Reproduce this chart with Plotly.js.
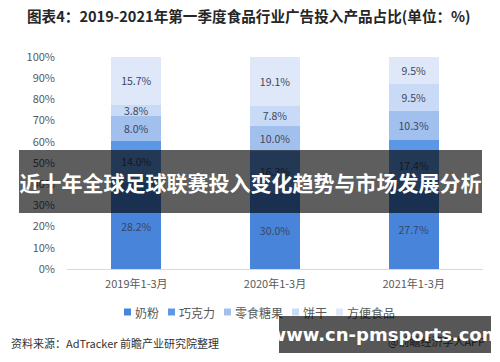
<!DOCTYPE html>
<html>
<head>
<meta charset="utf-8">
<script src="https://cdn.plot.ly/plotly-3.0.1.min.js"></script>
<style>
html,body{margin:0;padding:0;background:#fff;}
#wrap{position:relative;width:500px;height:362px;overflow:hidden;font-family:"Noto Sans CJK SC","Noto Sans",sans-serif;}
#chart{position:absolute;left:0;top:0;width:500px;height:362px;}
.ov{position:absolute;color:#fff;font-weight:bold;white-space:nowrap;display:flex;align-items:center;justify-content:center;}
</style>
</head>
<body>
<div id="wrap">
<div id="chart"></div>
<div class="ov" id="banner" style="left:19px;top:150px;width:463px;height:63px;background:rgba(0,0,0,0.63);font-size:21px;">近十年全球足球联赛投入变化趋势与市场发展分析</div>
<div style="position:absolute;left:388px;top:333px;font-size:11px;color:#444;white-space:nowrap;">@前瞻经济学人APP</div>
<div class="ov" id="wm" style="left:279px;top:316px;width:212px;height:37px;background:rgba(0,0,0,0.66);font-size:18px;font-family:'DejaVu Sans',sans-serif;">www.cn-pmsports.com</div>
</div>
<script>
var categories = ['2019年1-3月', '2020年1-3月', '2021年1-3月'];
var seriesNames = ['奶粉', '巧克力', '零食糖果', '饼干', '方便食品'];
var milkPowder = [28.2, 30.0, 27.7];
var chocolate = [14.0, 16.3, 17.4];
var snackCandy = [8.0, 10.0, 10.3];
var biscuit = [3.8, 7.8, 9.5];
var instantFood = [15.7, 19.1, 9.5];
var yTickVals = [0, 10, 20, 30, 40, 50, 60, 70, 80, 90, 100];
var yTickText = ['0%', '10%', '20%', '30%', '40%', '50%', '60%', '70%', '80%', '90%', '100%'];

var seriesValues = [milkPowder, chocolate, snackCandy, biscuit, instantFood];
var colors = ['#4784DA', '#5C97E6', '#A2C0EE', '#C8DAF5', '#DEE8F8'];

var traces = seriesValues.map(function (vals, i) {
  return {
    type: 'bar',
    name: seriesNames[i],
    x: categories,
    y: vals,
    marker: {color: colors[i], line: {width: 0}},
    text: vals.map(function (v) { return v.toFixed(1) + '%'; }),
    textposition: 'inside',
    insidetextanchor: 'middle',
    textangle: 0,
    constraintext: 'none',
    textfont: {size: 10.5, color: '#3a4660', family: '"Noto Sans CJK SC", sans-serif'},
    hoverinfo: 'none',
    showlegend: false
  };
});

// custom compact legend (square + label), laid out from the series names
var plotL = 67, plotW = 416, plotT = 57, plotH = 212;
var plotB = plotT + plotH;
var legendShapes = [], legendAnns = [];
var lx = 124, ly = 312, sq = 7, fs = 12;
seriesNames.forEach(function (name, i) {
  var tw = name.length * fs;
  legendShapes.push({
    type: 'rect', xref: 'paper', yref: 'paper', layer: 'above',
    x0: (lx - plotL) / plotW, x1: (lx + sq - plotL) / plotW,
    y0: (plotB - (ly + sq / 2)) / plotH, y1: (plotB - (ly - sq / 2)) / plotH,
    fillcolor: colors[i], line: {width: 0}
  });
  legendAnns.push({
    text: name, xref: 'paper', yref: 'paper',
    x: (lx + sq + 2 - plotL) / plotW, xanchor: 'left',
    y: (plotB - ly) / plotH, yanchor: 'middle', showarrow: false,
    font: {size: fs, color: '#595959'}
  });
  lx += sq + 2 + tw + 11;
});

var layout = {
  width: 500,
  height: 362,
  margin: {l: plotL, r: 500 - plotL - plotW, t: plotT, b: 362 - plotB, pad: 0},
  paper_bgcolor: '#ffffff',
  plot_bgcolor: '#ffffff',
  barmode: 'stack',
  barnorm: 'percent',
  bargap: 0.64,
  showlegend: false,
  uniformtext: {mode: 'show', minsize: 10},
  font: {family: '"Noto Sans CJK SC", sans-serif', color: '#595959'},
  title: {
    text: '<b>图表4：2019-2021年第一季度食品行业广告投入产品占比(单位：%)</b>',
    x: 0.054, xanchor: 'left', xref: 'container', y: 0.953, yanchor: 'middle',
    font: {size: 14.6, color: '#262626', family: '"Noto Sans CJK SC", sans-serif'}
  },
  xaxis: {
    type: 'category',
    showline: true, linecolor: '#d9d9d9', linewidth: 1,
    ticks: '', showgrid: false, zeroline: false,
    ticklabelstandoff: 5,
    tickfont: {size: 11, color: '#595959'}
  },
  yaxis: {
    range: [0, 100],
    tickvals: yTickVals, ticktext: yTickText,
    showgrid: false, zeroline: false, showline: false, ticks: '',
    ticklabelstandoff: 11,
    tickfont: {size: 11, color: '#595959'}
  },
  shapes: legendShapes,
  annotations: legendAnns.concat([{
    text: '资料来源：AdTracker 前瞻产业研究院整理',
    xref: 'paper', yref: 'paper', x: (9 - plotL) / plotW, xanchor: 'left',
    y: (plotB - 343) / plotH, yanchor: 'middle', showarrow: false,
    font: {size: 11, color: '#333333'}
  }])
};

Plotly.newPlot('chart', traces, layout, {displayModeBar: false, staticPlot: true});
</script>
</body>
</html>
